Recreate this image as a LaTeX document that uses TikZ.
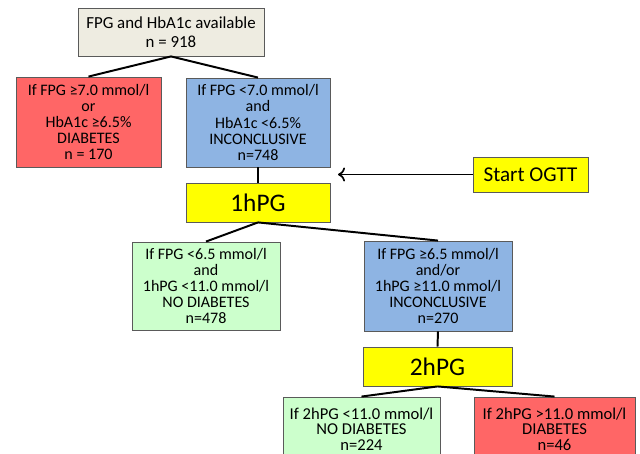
\documentclass[tikz,border=0pt]{standalone}
\usepackage{fontspec}
\setmainfont{Carlito}
\usetikzlibrary{arrows.meta}

\definecolor{startgray}{RGB}{238,236,225}
\definecolor{diabred}{RGB}{255,102,102}
\definecolor{incblue}{RGB}{142,180,227}
\definecolor{nodiabgreen}{RGB}{204,255,204}
\definecolor{testyellow}{RGB}{255,255,0}
\definecolor{boxline}{RGB}{90,90,90}

\tikzset{
  box/.style={draw=boxline, line width=0.6pt, align=center, inner sep=1pt,
    font=\fontsize{11.4}{11.5}\selectfont},
  link/.style={line width=1.4pt, black}
}

\begin{document}
\begin{tikzpicture}[x=0.025cm, y=-0.025cm]
\useasboundingbox (0,0) rectangle (640,454);
\clip (0,0) rectangle (640,454);

% first split: FPG and HbA1c
\node[box, fill=startgray, minimum width=4.65cm, minimum height=1.2cm,
  font=\fontsize{12}{13.5}\selectfont] (all) at (171,32)
  {FPG and HbA1c available\\n = 918};
\node[box, fill=diabred, minimum width=3.625cm, minimum height=2.25cm] (diab1) at (88.5,122)
  {If FPG ≥7.0 mmol/l\\or\\HbA1c ≥6.5\%\\DIABETES\\n = 170};
\node[box, fill=incblue, minimum width=3.6cm, minimum height=2.225cm] (inc1) at (258,122.5)
  {If FPG <7.0 mmol/l\\and\\HbA1c <6.5\%\\INCONCLUSIVE\\n=748};

% OGTT
\node[box, fill=testyellow, minimum width=3.6cm, minimum height=0.975cm,
  font=\fontsize{18}{20}\selectfont] (hpg1) at (258,202.5) {1hPG};
\node[box, fill=testyellow, minimum width=2.875cm, minimum height=0.875cm,
  font=\fontsize{15}{17}\selectfont] (ogtt) at (530.5,174.5) {Start OGTT};
\coordinate (ogttend) at (338,174.5);

% second split: 1hPG
\node[box, fill=nodiabgreen, minimum width=3.7cm, minimum height=2.2cm] (nodiab1) at (206,286)
  {If FPG <6.5 mmol/l\\and\\1hPG <11.0 mmol/l\\NO DIABETES\\n=478};
\node[box, fill=incblue, minimum width=3.7cm, minimum height=2.25cm] (inc2) at (438,286)
  {If FPG ≥6.5 mmol/l\\and/or\\1hPG ≥11.0 mmol/l\\INCONCLUSIVE\\n=270};

% third split: 2hPG
\node[box, fill=testyellow, minimum width=3.725cm, minimum height=0.975cm,
  font=\fontsize{18}{20}\selectfont] (hpg2) at (437.5,366.5) {2hPG};
\node[box, fill=nodiabgreen, minimum width=3.925cm, minimum height=1.6cm,
  font=\fontsize{11.8}{11}\selectfont] (nodiab2) at (361.5,429)
  {If 2hPG <11.0 mmol/l\\NO DIABETES\\n=224};
\node[box, fill=diabred, minimum width=4.025cm, minimum height=1.6cm,
  font=\fontsize{11.8}{11}\selectfont] (diab2) at (554.5,429)
  {If 2hPG >11.0 mmol/l\\DIABETES\\n=46};

% connectors
\draw[link] (all.south) -- (diab1.north);
\draw[link] (all.south) -- (inc1.north);
\draw[link] (inc1.south) -- (hpg1.north);
\draw[link] (hpg1.south) -- (nodiab1.north);
\draw[link] (hpg1.south) -- (inc2.north);
\draw[link] (inc2.south) -- (hpg2.north);
\draw[link] (hpg2.south) -- (nodiab2.north);
\draw[link] (hpg2.south) -- (diab2.north);
\draw[link, line width=1.2pt, -{To[length=5pt,width=10pt]}] (ogtt.west) -- (ogttend);

\end{tikzpicture}
\end{document}
